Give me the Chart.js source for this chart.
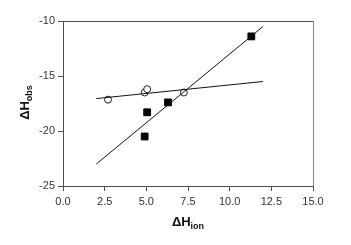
<!DOCTYPE html>
<html>
<head>
<meta charset="utf-8">
<script src="https://cdn.jsdelivr.net/npm/chart.js@4/dist/chart.umd.min.js"></script>
<style>
  html, body { margin: 0; padding: 0; background: #fff; }
  #wrap { width: 351px; height: 245px; }
</style>
</head>
<body>
<div id="wrap"><canvas id="plot" width="351" height="245"></canvas></div>
<script>
// open circles
const openX = [2.7, 4.9, 5.05, 7.25];
const openY = [-17.15, -16.5, -16.2, -16.5];
// filled squares
const filledX = [4.9, 5.05, 6.3, 11.3];
const filledY = [-20.5, -18.3, -17.4, -11.4];
// regression lines (end points)
const openFitX = [2.0, 12.0];
const openFitY = [-17.05, -15.5];
const filledFitX = [2.0, 12.0];
const filledFitY = [-23.0, -10.5];

const xTicks = [0, 2.5, 5, 7.5, 10, 12.5, 15];
const yTicks = [-25, -20, -15, -10];

const AXIS = "#505050";
const TEXT = "#333333";

function pts(xs, ys) {
    return xs.map((x, i) => ({ x: x, y: ys[i] }));
}

// draws the top/right frame and the axis titles with subscripts
const framePlugin = {
    id: "frame",
    afterDraw(chart) {
        const ctx = chart.ctx;
        const a = chart.chartArea;
        ctx.save();
        ctx.lineWidth = 1;
        ctx.strokeStyle = AXIS;
        ctx.beginPath();
        ctx.moveTo(a.left, a.top + 0.5);
        ctx.lineTo(a.right, a.top + 0.5);
        ctx.stroke();
        ctx.strokeStyle = "#8a8a8a";
        ctx.beginPath();
        ctx.moveTo(a.right + 0.5, a.top);
        ctx.lineTo(a.right + 0.5, a.bottom);
        ctx.stroke();

        ctx.fillStyle = "#111";
        ctx.textBaseline = "alphabetic";
        const big = "bold 13px 'Liberation Sans', Arial, sans-serif";
        const small = "bold 9px 'Liberation Sans', Arial, sans-serif";

        // x title
        ctx.font = big;
        const w1 = ctx.measureText("ΔH").width;
        ctx.font = small;
        const w2 = ctx.measureText("ion").width;
        let cx = (a.left + a.right) / 2 - (w1 + w2) / 2;
        ctx.font = big;
        ctx.fillText("ΔH", cx, 226);
        ctx.font = small;
        ctx.fillText("ion", cx + w1, 229);

        // y title (rotated)
        ctx.translate(29, (a.top + a.bottom) / 2 - 1);
        ctx.rotate(-Math.PI / 2);
        ctx.font = big;
        const v1 = ctx.measureText("ΔH").width;
        ctx.font = small;
        const v2 = ctx.measureText("obs").width;
        const sx = -(v1 + v2) / 2;
        ctx.font = big;
        ctx.fillText("ΔH", sx, 0);
        ctx.font = small;
        ctx.fillText("obs", sx + v1, 3);
        ctx.restore();
    }
};

new Chart(document.getElementById("plot"), {
    type: "scatter",
    data: {
        datasets: [
            {
                type: "line",
                data: pts(openFitX, openFitY),
                borderColor: "#111",
                borderWidth: 1,
                pointRadius: 0,
                fill: false
            },
            {
                type: "line",
                data: pts(filledFitX, filledFitY),
                borderColor: "#111",
                borderWidth: 1,
                pointRadius: 0,
                fill: false
            },
            {
                data: pts(openX, openY),
                pointStyle: "circle",
                pointRadius: 3.5,
                borderColor: "#222",
                borderWidth: 1,
                backgroundColor: "#fff"
            },
            {
                data: pts(filledX, filledY),
                pointStyle: "rect",
                pointRadius: 4.8,
                borderColor: "#000",
                borderWidth: 1,
                backgroundColor: "#000"
            }
        ]
    },
    options: {
        responsive: false,
        animation: false,
        layout: { padding: { top: 21, right: 38, left: 0, bottom: 0 } },
        plugins: {
            legend: { display: false },
            tooltip: { enabled: false }
        },
        scales: {
            x: {
                type: "linear",
                min: 0,
                max: 15,
                afterBuildTicks: (s) => { s.ticks = xTicks.map(v => ({ value: v })); },
                afterFit: (s) => { s.height = 59; },
                ticks: {
                    color: TEXT,
                    padding: 4,
                    font: { family: "'Liberation Sans', Arial, sans-serif", size: 11 },
                    callback: (v) => v.toFixed(1)
                },
                grid: { drawOnChartArea: false, drawTicks: true, tickLength: 5, color: AXIS },
                border: { display: true, color: AXIS, width: 1 }
            },
            y: {
                type: "linear",
                min: -25,
                max: -10,
                afterBuildTicks: (s) => { s.ticks = yTicks.map(v => ({ value: v })); },
                afterFit: (s) => { s.width = 63; },
                ticks: {
                    color: TEXT,
                    padding: 3,
                    font: { family: "'Liberation Sans', Arial, sans-serif", size: 11 },
                    callback: (v) => String(v)
                },
                grid: { drawOnChartArea: false, drawTicks: true, tickLength: 5, color: AXIS },
                border: { display: true, color: AXIS, width: 1 }
            }
        }
    },
    plugins: [framePlugin]
});
</script>
</body>
</html>
